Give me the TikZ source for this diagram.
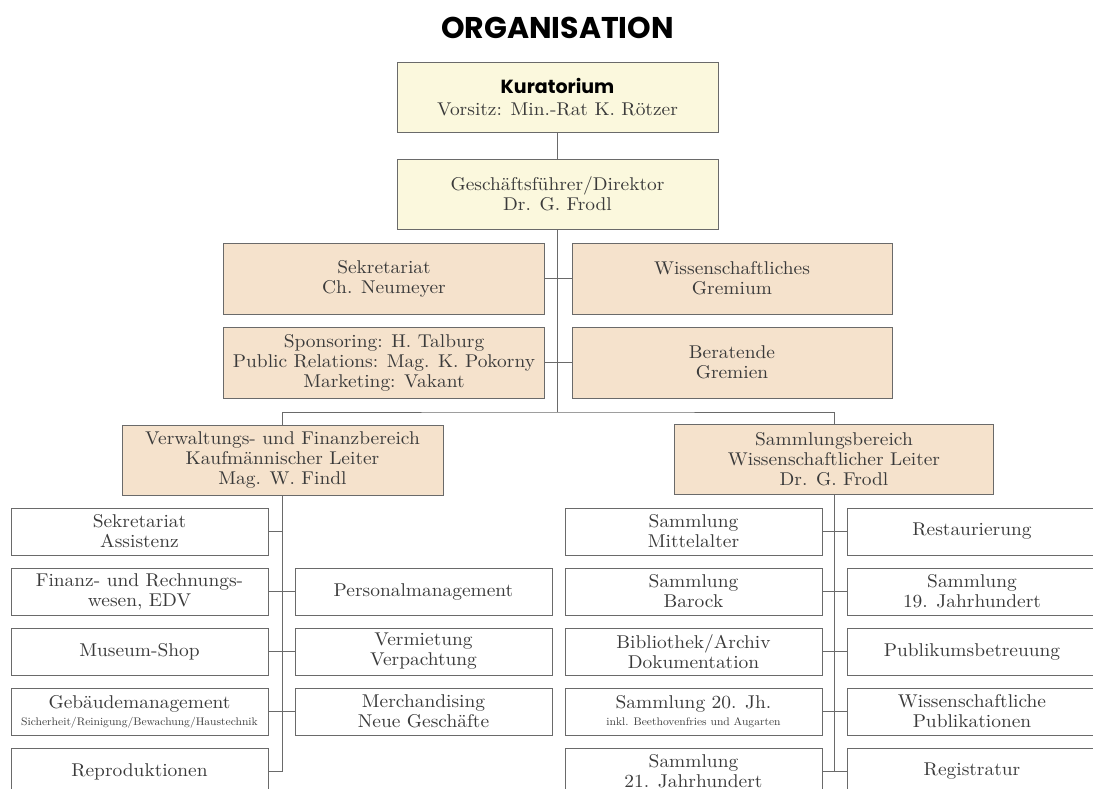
\documentclass[tikz,border=0pt]{standalone}
\usepackage{fontspec}
\setmainfont{lmroman10-regular.otf}[FakeStretch=1.05]
\newfontfamily\titelfont{Poppins}
\definecolor{gelb}{HTML}{FBF8DD}
\definecolor{pfirsich}{HTML}{F5E2CC}
\definecolor{rahmen}{HTML}{6A6A6A}
\definecolor{schrift}{HTML}{3A3A3A}

\begin{document}
\begin{tikzpicture}[x=1pt, y=-1pt,
    box/.style={draw=rahmen, line width=1pt, rectangle, inner sep=0pt, align=center, text=schrift, font=\fontsize{18.5}{20}\selectfont},
    leitung/.style={box, fill=gelb, minimum width=321pt, minimum height=70pt}, % Leitungsebene
    bereich/.style={box, fill=pfirsich, minimum width=321pt, minimum height=71pt},
    stelle/.style={box, fill=white, minimum width=257pt, minimum height=47pt}, % Abteilungen
    linie/.style={draw=rahmen, line width=0.9pt}
  ]
    \useasboundingbox (0,0) rectangle (1093,788);
    % Titel
    \node [font=\titelfont\bfseries\fontsize{30}{30}\selectfont, anchor=base] (titel) at (557.5,38) {ORGANISATION};
    % Leitung
    \node [leitung] (kuratorium) at (557.5,97) {{\titelfont\bfseries\fontsize{19}{21}\selectfont\color{black} Kuratorium}\\[2pt]Vorsitz: Min.-Rat K. Rötzer};
    \node [leitung] (direktor) at (557.5,194) {Geschäftsführer/Direktor\\Dr. G. Frodl};
    % Stabsstellen
    \node [bereich] (sekretariat) at (384,278.5) {Sekretariat\\Ch. Neumeyer};
    \node [bereich, minimum width=320pt] (gremium) at (732,278.5) {Wissenschaftliches\\Gremium};
    \node [bereich] (sponsoring) at (384,362.5) {Sponsoring: H. Talburg\\Public Relations: Mag. K. Pokorny\\Marketing: Vakant};
    \node [bereich, minimum width=320pt] (beratend) at (732,362.5) {Beratende\\Gremien};
    % Bereiche
    \node [bereich, minimum height=70pt] (verwaltung) at (282.5,460) {Verwaltungs- und Finanzbereich\\Kaufmännischer Leiter\\Mag. W. Findl};
    \node [bereich, minimum height=70pt, minimum width=319pt] (sammlung) at (834,459) {Sammlungsbereich\\Wissenschaftlicher Leiter\\Dr. G. Frodl};
    % Verwaltungs- und Finanzbereich
    \node [stelle] (assistenz) at (139.5,531.5) {Sekretariat\\Assistenz};
    \node [stelle] (finanz) at (139.5,591.5) {Finanz- und Rechnungs-\\wesen, EDV};
    \node [stelle] (shop) at (139.5,651.5) {Museum-Shop};
    \node [stelle] (gebaeude) at (139.5,711.5) {Gebäudemanagement\\[-3pt]{\fontsize{11}{12}\selectfont Sicherheit/Reinigung/Bewachung/Haustechnik}};
    \node [stelle] (repro) at (139.5,771.5) {Reproduktionen};
    \node [stelle] (personal) at (423.5,591.5) {Personalmanagement};
    \node [stelle] (vermietung) at (423.5,651.5) {Vermietung\\Verpachtung};
    \node [stelle] (merch) at (423.5,711.5) {Merchandising\\Neue Geschäfte};
    % Sammlungsbereich
    \node [stelle] (mittelalter) at (693.5,531.5) {Sammlung\\Mittelalter};
    \node [stelle] (barock) at (693.5,591.5) {Sammlung\\Barock};
    \node [stelle] (bibliothek) at (693.5,651.5) {Bibliothek/Archiv\\Dokumentation};
    \node [stelle] (jh20) at (693.5,711.5) {Sammlung 20. Jh.\\[-3pt]{\fontsize{11}{12}\selectfont inkl. Beethovenfries und Augarten}};
    \node [stelle] (jh21) at (693.5,771.5) {Sammlung\\21. Jahrhundert};
    \node [stelle, minimum width=250pt] (restaurierung) at (972,531.5) {Restaurierung};
    \node [stelle, minimum width=250pt] (jh19) at (972,591.5) {Sammlung\\19. Jahrhundert};
    \node [stelle, minimum width=250pt] (publikum) at (972,651.5) {Publikumsbetreuung};
    \node [stelle, minimum width=250pt] (publikationen) at (972,711.5) {Wissenschaftliche\\Publikationen};
    \node [stelle, minimum width=250pt] (registratur) at (972,771.5) {Registratur};
    % Verbindungen
    \coordinate (gabel) at (557.5,412);
    \draw [linie] (kuratorium) -- (direktor);
    \draw [linie] (direktor) -- (gabel);
    \draw [linie] (sekretariat) -- (gremium);
    \draw [linie] (sponsoring) -- (beratend);
    \draw [linie] (verwaltung.north) |- (gabel) -| (sammlung.north);
    \draw [linie] (verwaltung) -- (verwaltung |- repro);
    \draw [linie] (sammlung) -- (sammlung |- jh21);
    \draw [linie] (assistenz) -- (assistenz -| verwaltung);
    \draw [linie] (finanz) -- (personal);
    \draw [linie] (shop) -- (vermietung);
    \draw [linie] (gebaeude) -- (merch);
    \draw [linie] (repro) -- (repro -| verwaltung);
    \draw [linie] (mittelalter) -- (restaurierung);
    \draw [linie] (barock) -- (jh19);
    \draw [linie] (bibliothek) -- (publikum);
    \draw [linie] (jh20) -- (publikationen);
    \draw [linie] (jh21) -- (registratur);
\end{tikzpicture}
\end{document}
